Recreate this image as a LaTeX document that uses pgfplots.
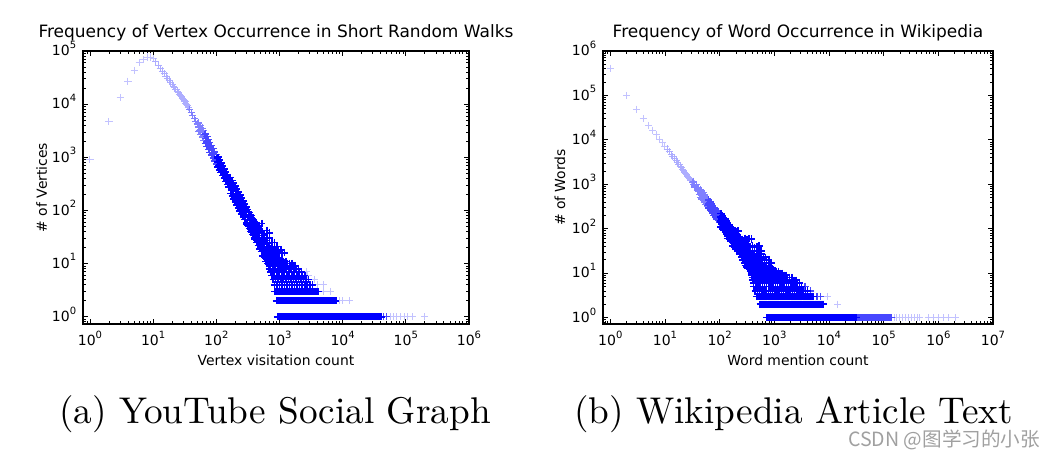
\documentclass[border=0pt]{standalone}
\usepackage{fontspec}
\usepackage{pgfplots}
\pgfplotsset{compat=1.18}
\newfontfamily\djv{DejaVu Sans}
\newfontfamily\cjk{Noto Sans CJK SC}
\newfontfamily\capfont{lmroman10-regular}[Extension=.otf]
\newcommand{\tl}[1]{10\raisebox{7.4pt}{\fontsize{10}{10}\selectfont #1}}
\definecolor{wm}{RGB}{160,160,160}
\colorlet{cA}{blue!24!white}
\colorlet{cB}{blue!32!white}
\colorlet{cC}{blue!50!white}
\colorlet{cD}{blue!72!white}
\colorlet{cE}{blue}
\pgfplotsset{
  myaxis/.style={
    scale only axis, anchor=south west, height=273pt,
    tick align=inside,
    major tick length=4.7pt, minor tick length=2.7pt,
    tick style={black, line width=0.8pt},
    axis line style={black, line width=1.1pt},
    tick label style={font=\djv\fontsize{14}{14}\selectfont},
    xticklabel style={yshift=-3.3pt},
    yticklabel style={xshift=-3.3pt, yshift=2.5pt},
    label style={font=\djv\fontsize{13.9}{14}\selectfont},
    title style={font=\djv\fontsize{17}{18}\selectfont, at={(axis description cs:0.5,1)}, anchor=base, yshift=7.3pt},
    xlabel style={at={(axis description cs:0.5,0)}, anchor=base, yshift=-41pt},
  },
  mk/.style 2 args={only marks, color=#1, mark=+, mark size=3.6pt, mark options={solid, draw=#1, line width=#2}},
}
\begin{document}
\begin{tikzpicture}
\path[use as bounding box] (0,0) rectangle (1055pt,459pt);
% ---------------- (a) YouTube ----------------
\begin{loglogaxis}[myaxis, at={(83pt,135pt)}, width=386pt,
  xmin=0.776, xmax=1e6, ymin=0.73, ymax=1e5,
  xtick={1,10,100,1000,10000,100000,1000000},
  xticklabels={\tl{0},\tl{1},\tl{2},\tl{3},\tl{4},\tl{5},\tl{6}},
  ytick={1,10,100,1000,10000,100000},
  yticklabels={\tl{0},\tl{1},\tl{2},\tl{3},\tl{4},\tl{5}},
  minor xtick={0.8,0.9,2,3,4,5,6,7,8,9,20,30,40,50,60,70,80,90,200,300,400,500,600,700,800,900,2000,3000,4000,5000,6000,7000,8000,9000,20000,30000,40000,50000,60000,70000,80000,90000,200000,300000,400000,500000,600000,700000,800000,900000},
  minor ytick={0.8,0.9,2,3,4,5,6,7,8,9,20,30,40,50,60,70,80,90,200,300,400,500,600,700,800,900,2000,3000,4000,5000,6000,7000,8000,9000,20000,30000,40000,50000,60000,70000,80000,90000},
  title={Frequency of Vertex Occurrence in Short Random Walks},
  xlabel={Vertex visitation count},
  ylabel={\# of Vertices},
  ylabel style={at={(axis description cs:-0.0933,0.5)}, anchor=base},
]
\addplot[mk={cA}{1pt}] coordinates {
(1,900)(2,4700)(3,13400)(4,27000)(5,43000)(6,60000)(7,70000)(8,77000)(9,77000)(10,72000)
(56230,1)(63100,1)(70790,1)(81280,1)(95500,1)(107200,1)(128800,1)(199500,1)
(8913,2)(10000,2)(12900,2)(5012,3)(6310,3)(3981,4)(4898,4)(3548,5)(2818,6)(2630,7)
};
\addplot[mk={cB}{1pt}] coordinates {
(11,62100)(12,53900)(13,47400)(14,42000)(15,37600)(16,33800)(17,30700)(18,27900)(19,25600)(20,23600)
(21,21800)(22,20200)(23,18800)(24,17500)(25,16400)(26,15400)(27,14500)(28,13700)(29,12900)(30,12200)
(31,11600)(32,11000)(33,10500)(34,9930)(35,9310)(36,8750)
};
\addplot[mk={cC}{1.1pt}] coordinates {
(38,7960)(40,7010)(42,6180)(45,5450)(47,4800)(50,4230)(53,3720)(56,3280)(60,2890)(63,2550)
(52,4410)(55,3160)(58,3420)(61,2450)
(53,4580)(56,4030)(60,3550)(63,3140)(53,3020)(56,2670)(60,2350)(63,2070)
};
\addplot[mk={cD}{1.3pt}] coordinates {
(67,2240)(71,1980)(75,1740)(79,1530)(84,1350)(89,1190)(94,1050)(100,925)
(65,2650)(69,1900)(73,2060)(77,1480)(82,1600)(87,1150)(92,1240)(97,889)
(67,2760)(71,2440)(75,2140)(79,1880)(84,1660)(89,1460)(94,1290)(100,1140)
(67,1820)(71,1610)(75,1410)(79,1240)(84,1100)(89,967)(94,854)(100,752)
(44670,1)(48980,1)
};
\addplot[mk={cE}{1.6pt}] coordinates {
(106,815)(112,718)(119,632)(126,557)(133,491)(141,432)(150,381)(158,336)
(103,964)(109,690)(116,748)(122,536)(130,581)(137,416)(145,451)(154,323)
(106,1000)(112,883)(119,777)(126,685)(133,604)(141,531)(150,469)(158,413)
(106,663)(112,584)(119,514)(126,453)(133,399)(141,351)(150,310)(158,273)
(168,296)(178,261)(188,230)(200,202)(211,178)(224,157)(237,138)(251,122)(266,107)(282,95)
(299,83)(316,74)(335,65)(355,57)(376,50)(398,44)(422,39)(447,34)(473,30)(501,27)
(531,23)(562,21)(596,18)(631,16)(668,14)(708,12)(750,11)(794,10)
(168,418)(178,369)(188,325)(200,285)(211,252)(224,222)(237,195)(251,172)(266,151)(282,134)
(299,117)(316,105)(335,92)(355,81)(376,71)(398,62)
(168,210)(178,185)(188,163)(200,143)(211,126)(224,111)(237,98)(251,86)(266,76)(282,67)
(299,59)(316,52)(335,46)(355,40)(376,35)(398,31)
(163,356)(163,279)(173,318)(173,243)(183,285)(183,210)(194,255)(194,183)(205,228)(205,159)
(218,203)(218,138)(230,182)(230,120)(244,163)(244,104)(259,145)(259,90)(274,130)(274,78)
(290,116)(290,68)(307,104)(307,59)(326,93)(326,51)(345,83)(345,45)(365,74)(365,39)
(387,66)(387,34)(410,59)(410,29)(434,53)(434,25)(460,47)(460,22)(487,42)(487,19)
(516,38)(516,17)(546,34)(546,14)(579,30)(579,13)(613,27)(613,11)(649,24)(649,10)
(688,21)(688,8)(729,19)(729,7)(772,16)(772,6)
(363,41)(398,37)(437,43)(479,39)(525,40)(575,36)(631,42)(692,38)
(302,56)(331,52)(363,58)(398,54)(437,55)(479,51)(525,57)
(437,30)(479,30)(525,30)(575,30)(631,30)(692,30)
(479,25)(525,25)(575,25)(631,25)(692,25)(759,25)(832,25)
(525,21)(575,21)(631,21)(692,21)(759,21)(832,21)(912,21)
(550,18)(603,18)(661,18)(724,18)(794,18)(871,18)(955,18)(1047,18)
(575,16)(631,16)(692,16)(759,16)(832,16)(912,16)(1000,16)(1096,16)(1202,16)
(575,15)(631,15)(692,15)(759,15)(832,15)
(589,14)(646,14)(708,14)(776,14)(851,14)
(617,13)(676,13)(741,13)(813,13)(891,13)(977,13)
(631,12)(692,12)(759,12)(832,12)(912,12)(1000,12)(1096,12)
(661,11)(724,11)(794,11)(871,11)(955,11)(1047,11)(1148,11)(1259,11)
(692,10)(759,10)(832,10)(912,10)(1000,10)(1096,10)(1202,10)(1318,10)(1445,10)(1585,10)
(708,9)(776,9)(851,9)(933,9)(1023,9)(1122,9)(1230,9)(1349,9)(1479,9)(1622,9)(1778,9)
(724,8)(794,8)(871,8)(955,8)(1047,8)(1148,8)(1259,8)(1380,8)(1514,8)(1660,8)(1820,8)(1995,8)
(741,7)(813,7)(891,7)(977,7)(1072,7)(1175,7)(1288,7)(1413,7)(1549,7)(1698,7)(1862,7)(2042,7)(2239,7)
(759,6)(832,6)(912,6)(1000,6)(1096,6)(1202,6)(1318,6)(1445,6)(1585,6)(1738,6)(1905,6)(2089,6)(2291,6)(2512,6)
(794,5)(871,5)(955,5)(1047,5)(1148,5)(1259,5)(1380,5)(1514,5)(1660,5)(1820,5)(1995,5)(2188,5)(2399,5)(2630,5)(2884,5)
(832,4)(912,4)(1000,4)(1096,4)(1202,4)(1318,4)(1445,4)(1585,4)(1738,4)(1905,4)(2089,4)(2291,4)(2512,4)(2754,4)(3020,4)(3311,4)
(851,3)(933,3)(1023,3)(1122,3)(1230,3)(1349,3)(1479,3)(1622,3)(1778,3)(1950,3)(2138,3)(2344,3)(2570,3)(2818,3)(3090,3)(3388,3)(3715,3)(4074,3)
(891,3)(977,3)(1072,3)(1175,3)(1288,3)(1413,3)(1549,3)(1698,3)(1862,3)(2042,3)(2239,3)(2455,3)(2692,3)(2951,3)(3236,3)(3548,3)(3890,3)
(891,2)(977,2)(1072,2)(1175,2)(1288,2)(1413,2)(1549,2)(1698,2)(1862,2)(2042,2)(2239,2)(2455,2)(2692,2)(2951,2)(3236,2)(3548,2)(3890,2)(4266,2)(4677,2)(5129,2)(5623,2)(6166,2)(6761,2)(7413,2)
(933,2)(1023,2)(1122,2)(1230,2)(1349,2)(1479,2)(1622,2)(1778,2)(1950,2)(2138,2)(2344,2)(2570,2)(2818,2)(3090,2)
(3388,2)(3715,2)(4074,2)(4467,2)(4898,2)(5370,2)(5888,2)(6457,2)(7079,2)(7762,2)
(933,1)(1023,1)(1122,1)(1230,1)(1349,1)(1479,1)(1622,1)(1778,1)(1950,1)(2138,1)(2344,1)(2570,1)(2818,1)(3090,1)
(3388,1)(3715,1)(4074,1)(4467,1)(4898,1)(5370,1)(5888,1)(6457,1)(7079,1)(7762,1)(8511,1)(9333,1)(10230,1)(11220,1)
(12300,1)(13490,1)(14790,1)(16220,1)(17780,1)(19500,1)(21380,1)(23440,1)(25700,1)(28180,1)(30900,1)(33880,1)(37150,1)(40740,1)
(977,1)(1072,1)(1175,1)(1288,1)(1413,1)(1549,1)(1698,1)(1862,1)(2042,1)(2239,1)(2455,1)(2692,1)(2951,1)(3236,1)
(3548,1)(3890,1)(4266,1)(4677,1)(5129,1)(5623,1)
(6166,1)(6761,1)(7413,1)(8128,1)(8913,1)(9772,1)(10720,1)(11750,1)(12880,1)(14130,1)(15490,1)(16980,1)(18620,1)
(20420,1)(22390,1)(24550,1)(26920,1)(29510,1)(32360,1)(35480,1)(38900,1)
};
\end{loglogaxis}
% ---------------- (b) Wikipedia ----------------
\begin{loglogaxis}[myaxis, at={(603pt,135pt)}, width=390pt,
  xmin=0.735, xmax=1e7, ymin=0.72, ymax=1e6,
  xtick={1,10,100,1000,10000,100000,1000000,10000000},
  xticklabels={\tl{0},\tl{1},\tl{2},\tl{3},\tl{4},\tl{5},\tl{6},\tl{7}},
  ytick={1,10,100,1000,10000,100000,1000000},
  yticklabels={\tl{0},\tl{1},\tl{2},\tl{3},\tl{4},\tl{5},\tl{6}},
  minor xtick={0.8,0.9,2,3,4,5,6,7,8,9,20,30,40,50,60,70,80,90,200,300,400,500,600,700,800,900,2000,3000,4000,5000,6000,7000,8000,9000,20000,30000,40000,50000,60000,70000,80000,90000,200000,300000,400000,500000,600000,700000,800000,900000,2000000,3000000,4000000,5000000,6000000,7000000,8000000,9000000},
  minor ytick={0.8,0.9,2,3,4,5,6,7,8,9,20,30,40,50,60,70,80,90,200,300,400,500,600,700,800,900,2000,3000,4000,5000,6000,7000,8000,9000,20000,30000,40000,50000,60000,70000,80000,90000,200000,300000,400000,500000,600000,700000,800000,900000},
  title={Frequency of Word Occurrence in Wikipedia},
  xlabel={Word mention count},
  ylabel={\# of Words},
  ylabel style={at={(axis description cs:-0.0974,0.5)}, anchor=base},
]
\addplot[mk={cA}{1pt}] coordinates {
(1,410000)(2,100000)(3,49000)(4,30000)(5,21000)(6,16500)(7,12900)(8,10400)(9,8600)(10,7240)
(154900,1)(173800,1)(195000,1)(218800,1)(251200,1)(281800,1)(316200,1)(363100,1)(416900,1)(457100,1)
(660700,1)(812800,1)(1000000,1)(1230000,1)(1514000,1)(2042000,1)
(14450,2)(9333,3)
};
\addplot[mk={cB}{1pt}] coordinates {
(11,6210)(12,5380)(13,4720)(14,4190)(15,3740)(16,3370)(17,3050)(18,2780)(19,2540)(20,2340)
(21,2170)(22,2010)(23,1870)(24,1740)(25,1630)(26,1520)(27,1430)(28,1350)(29,1280)(30,1210)
};
\addplot[mk={cC}{1.1pt}] coordinates {
(32,1110)(34,1009)(35,918)(38,837)(40,762)(42,693)(45,632)(47,575)(50,524)(53,476)(56,434)(60,395)
(33,1175)(35,869)(37,973)(39,719)(41,807)(43,597)(46,668)(49,494)(52,555)(55,410)(58,459)
(45,777)(47,707)(50,645)(53,585)(56,534)(60,486)
(45,514)(47,467)(50,426)(53,387)(56,353)(60,321)
};
\addplot[mk={cD}{1.3pt}] coordinates {
(63,360)(67,327)(71,299)(75,272)(79,247)(84,225)(89,205)(94,187)(100,170)
(61,340)(65,381)(69,282)(73,316)(77,233)(82,262)(87,194)(92,217)(97,160)
(63,443)(67,402)(71,368)(75,335)(79,304)(84,277)(89,252)(94,230)(100,209)
(63,293)(67,266)(71,243)(75,221)(79,201)(84,183)(89,167)(94,152)(100,138)
(34670,1)(38020,1)(41690,1)(45710,1)(50120,1)(54950,1)(60260,1)(66070,1)(72440,1)(79430,1)
(87100,1)(95500,1)(104700,1)(114800,1)(125900,1)(138000,1)
(33110,1)(36310,1)(39810,1)(43650,1)(47860,1)(52480,1)(57540,1)(63100,1)(69180,1)(75860,1)
(83180,1)(91200,1)(100000,1)(109600,1)(120200,1)(131800,1)
(6026,3)(6918,3)(4571,4)(3631,5)
};
\addplot[mk={cE}{1.6pt}] coordinates {
(106,155)(112,141)(119,128)(126,117)(133,106)(141,97)(150,88)(158,80)(168,73)(178,67)
(188,61)(200,55)(211,50)(224,46)(237,42)(251,38)(266,34)(282,31)(299,29)(316,26)
(335,24)(355,22)(376,20)(398,18)(422,16)(447,15)(473,13)(501,12)(531,11)(562,10)
(106,219)(112,199)(119,181)(126,165)(133,150)(141,137)(150,124)(158,113)(168,103)(178,95)
(188,86)(200,78)(211,71)(224,65)(237,59)(251,54)
(106,110)(112,100)(119,91)(126,83)(133,75)(141,69)(150,62)(158,57)(168,52)(178,47)
(188,43)(200,39)(211,35)(224,33)(237,30)(251,27)
(103,183)(103,144)(109,168)(109,129)(116,155)(116,116)(122,143)(122,105)(130,132)(130,94)
(137,121)(137,85)(145,112)(145,76)(154,103)(154,69)(163,95)(163,62)(173,87)(173,56)
(183,80)(183,50)(194,74)(194,45)(205,68)(205,41)(218,63)(218,36)(230,58)(230,33)
(244,53)(244,30)(259,49)(259,27)(274,45)(274,24)(290,42)(290,22)(307,38)(307,19)
(326,35)(326,17)(345,32)(345,16)(365,30)(365,14)(387,28)(387,13)(410,25)(410,11)
(434,23)(434,10)(460,21)(460,9)(487,20)(487,8)(516,18)(516,7)(546,17)(546,7)
(126,92)(138,88)(151,90)(166,86)(182,91)(200,87)(219,89)
(138,61)(151,57)(166,63)(182,59)(200,60)(219,56)(240,62)(263,58)(288,61)(316,57)(347,60)(380,59)
(174,41)(191,38)(209,42)(229,39)(251,40)(275,43)(302,37)(331,41)(363,39)(398,42)(437,38)(479,40)(525,41)
(209,32)(229,32)(251,32)(275,32)(302,32)(331,32)(363,32)(398,32)(437,32)(479,32)(525,32)(575,32)
(229,27)(251,27)(275,27)(302,27)(331,27)(363,27)(398,27)(437,27)(479,27)(525,27)(575,27)
(251,23)(275,23)(302,23)(331,23)(363,23)(398,23)(437,23)(479,23)(525,23)(575,23)(631,23)(692,23)
(263,20)(288,20)(316,20)(347,20)(380,20)(417,20)(457,20)(501,20)(550,20)(603,20)(661,20)(724,20)(794,20)
(288,17)(316,17)(347,17)(380,17)(417,17)(457,17)(501,17)(550,17)(603,17)(661,17)(724,17)(794,17)(871,17)
(302,15)(331,15)(363,15)(398,15)(437,15)(479,15)(525,15)(575,15)(631,15)(692,15)
(316,14)(347,14)(380,14)(417,14)(457,14)(501,14)(550,14)(603,14)(661,14)(724,14)(794,14)
(331,13)(363,13)(398,13)(437,13)(479,13)(525,13)(575,13)(631,13)(692,13)(759,13)(832,13)(912,13)
(347,12)(380,12)(417,12)(457,12)(501,12)(550,12)(603,12)(661,12)(724,12)(794,12)(871,12)(955,12)
(363,11)(398,11)(437,11)(479,11)(525,11)(575,11)(631,11)(692,11)(759,11)(832,11)(912,11)(1000,11)(1096,11)(1202,11)
(380,10)(417,10)(457,10)(501,10)(550,10)(603,10)(661,10)(724,10)(794,10)(871,10)(955,10)(1047,10)(1148,10)(1259,10)(1380,10)
(380,9)(417,9)(457,9)(501,9)(550,9)(603,9)(661,9)(724,9)(794,9)(871,9)(955,9)(1047,9)(1148,9)(1259,9)(1380,9)(1514,9)(1660,9)
(398,8)(437,8)(479,8)(525,8)(575,8)(631,8)(692,8)(759,8)(832,8)(912,8)(1000,8)(1096,8)(1202,8)(1318,8)(1445,8)(1585,8)(1738,8)(1905,8)(2089,8)
(398,7)(437,7)(479,7)(525,7)(575,7)(631,7)(692,7)(759,7)(832,7)(912,7)(1000,7)(1096,7)(1202,7)(1318,7)(1445,7)(1585,7)(1738,7)(1905,7)(2089,7)(2291,7)(2512,7)
(417,6)(457,6)(501,6)(550,6)(603,6)(661,6)(724,6)(794,6)(871,6)(955,6)(1047,6)(1148,6)(1259,6)(1380,6)(1514,6)(1660,6)(1820,6)(1995,6)(2188,6)(2399,6)(2630,6)(2884,6)
(417,5)(457,5)(501,5)(550,5)(603,5)(661,5)(724,5)(794,5)(871,5)(955,5)(1047,5)(1148,5)(1259,5)(1380,5)(1514,5)(1660,5)(1820,5)(1995,5)(2188,5)(2399,5)(2630,5)(2884,5)(3162,5)
(447,4)(490,4)(537,4)(589,4)(646,4)(708,4)(776,4)(851,4)(933,4)(1023,4)(1122,4)(1230,4)(1349,4)(1479,4)(1622,4)(1778,4)(1950,4)(2138,4)(2344,4)(2570,4)(2818,4)(3090,4)(3388,4)(3715,4)(4074,4)
(479,3)(525,3)(575,3)(631,3)(692,3)(759,3)(832,3)(912,3)(1000,3)(1096,3)(1202,3)(1318,3)(1445,3)(1585,3)(1738,3)(1905,3)(2089,3)(2291,3)(2512,3)(2754,3)(3020,3)(3311,3)(3631,3)(3981,3)(4365,3)(4786,3)(5248,3)
(501,3)(550,3)(603,3)(661,3)(724,3)(794,3)(871,3)(955,3)(1047,3)(1148,3)(1259,3)(1380,3)(1514,3)(1660,3)(1820,3)(1995,3)(2188,3)(2399,3)(2630,3)(2884,3)(3162,3)(3467,3)(3802,3)(4169,3)(4571,3)(5012,3)
(550,2)(603,2)(661,2)(724,2)(794,2)(871,2)(955,2)(1047,2)(1148,2)(1259,2)(1380,2)(1514,2)(1660,2)(1820,2)(1995,2)(2188,2)(2399,2)(2630,2)(2884,2)(3162,2)
(3467,2)(3802,2)(4169,2)(4571,2)(5012,2)(5495,2)(6026,2)(6607,2)(7244,2)(7943,2)
(575,2)(631,2)(692,2)(759,2)(832,2)(912,2)(1000,2)(1096,2)(1202,2)(1318,2)(1445,2)(1585,2)(1738,2)(1905,2)(2089,2)(2291,2)(2512,2)(2754,2)(3020,2)
(3311,2)(3631,2)(3981,2)(4365,2)(4786,2)(5248,2)(5754,2)(6310,2)(6918,2)(7586,2)
(724,1)(794,1)(871,1)(955,1)(1047,1)(1148,1)(1259,1)(1380,1)(1514,1)(1660,1)(1820,1)(1995,1)(2188,1)(2399,1)
(2630,1)(2884,1)(3162,1)(3467,1)(3802,1)(4169,1)(4571,1)(5012,1)(5495,1)(6026,1)(6607,1)(7244,1)(7943,1)(8710,1)
(9550,1)(10470,1)(11480,1)(12590,1)(13800,1)(15140,1)(16600,1)(18200,1)(19950,1)(21880,1)(23990,1)(26300,1)(28840,1)(31620,1)
(759,1)(832,1)(912,1)(1000,1)(1096,1)(1202,1)(1318,1)(1445,1)(1585,1)(1738,1)(1905,1)(2089,1)(2291,1)(2512,1)
(2754,1)(3020,1)(3311,1)(3631,1)(3981,1)(4365,1)(4786,1)(5248,1)(5754,1)(6310,1)
(6918,1)(7586,1)(8318,1)(9120,1)(10000,1)(10960,1)(12020,1)(13180,1)(14450,1)(15850,1)(17380,1)(19050,1)
(20890,1)(22910,1)(25120,1)(27540,1)(30200,1)
};
\end{loglogaxis}
% captions and watermark
\node[anchor=base, font=\capfont\fontsize{37.2}{40}\selectfont] at (275pt,36pt) {(a) YouTube Social Graph};
\node[anchor=base, font=\capfont\fontsize{37.2}{40}\selectfont] at (793.5pt,36pt) {(b) Wikipedia Article Text};
\node[anchor=base west, inner sep=0pt, text=wm, font=\cjk\fontsize{19.6}{20}\selectfont] at (848pt,13pt) {CSDN @图学习的小张};
\end{tikzpicture}
\end{document}
